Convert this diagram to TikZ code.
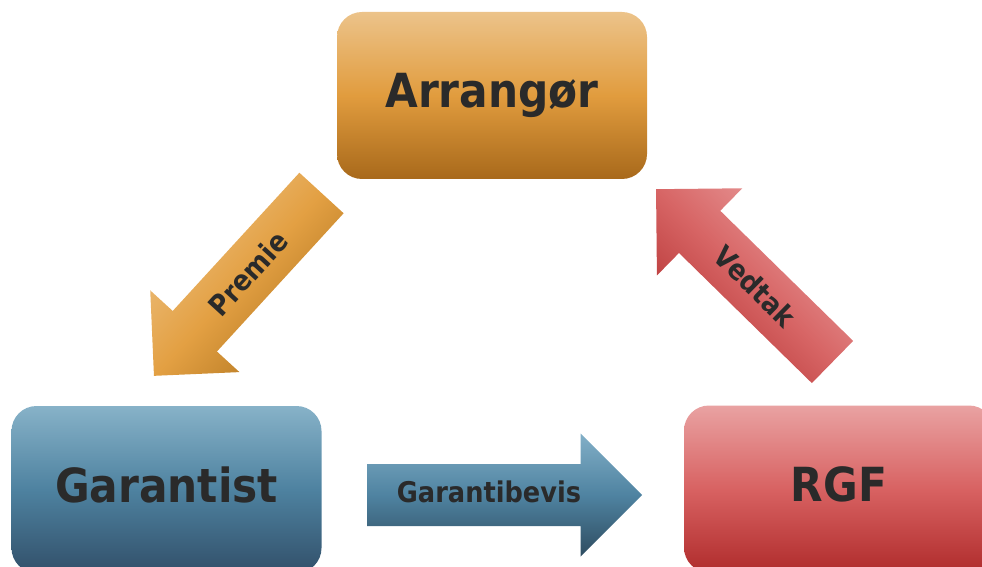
\documentclass[tikz,border=0pt]{standalone}
\usepackage{fontspec}
\newfontfamily\labfont{DejaVu Sans}[FakeStretch=0.9]
\definecolor{txt}{HTML}{2A2A2A}
\definecolor{orTop}{HTML}{ECC38A}
\definecolor{orMid}{HTML}{E19C3E}
\definecolor{orBot}{HTML}{A8691B}
\definecolor{blTop}{HTML}{87B2C8}
\definecolor{blMid}{HTML}{4E82A0}
\definecolor{blBot}{HTML}{32506A}
\definecolor{rdTop}{HTML}{E9A2A2}
\definecolor{rdMid}{HTML}{D86262}
\definecolor{rdBot}{HTML}{B02C2C}
\definecolor{paTop}{HTML}{EDC182}
\definecolor{paMid}{HTML}{E3A043}
\definecolor{paBot}{HTML}{B0741E}
\definecolor{vaTop}{HTML}{EAA0A0}
\definecolor{vaMid}{HTML}{D76565}
\definecolor{vaBot}{HTML}{B33030}
\definecolor{gaTop}{HTML}{82AFC7}
\definecolor{gaMid}{HTML}{4F83A1}
\definecolor{gaBot}{HTML}{2E4C60}
\newcommand\arrowpath[3]{(0,-#2) -- ({#1-#3},-#2) -- ({#1-#3},-#3) -- (#1,0) -- ({#1-#3},#3) -- ({#1-#3},#2) -- (0,#2) -- cycle}
\tikzset{
  box/.style={draw=none, rounded corners=25pt, minimum width=310pt, minimum height=167pt,
    inner sep=0pt, text=txt, font=\labfont\bfseries\fontsize{47}{50}\selectfont,
    text height=36pt, text depth=11pt},
  arrlabel/.style={inner sep=0pt, text=txt, font=\labfont\bfseries\fontsize{28.5}{30}\selectfont}
}
\begin{document}
\begin{tikzpicture}[x=1pt,y=1pt]
\useasboundingbox (0,0) rectangle (982,566);
\clip (0,0) rectangle (982,566);
% boxes
\node[box, top color=orTop, bottom color=orBot, middle color=orMid] (arr) at (492,470.5) {Arrangør};
\node[box, top color=blTop, bottom color=blBot, middle color=blMid] (gar) at (166.5,76.5) {Garantist};
\node[box, top color=rdTop, bottom color=rdBot, middle color=rdMid] (rgf) at (839,77) {RGF};
% Premie arrow (Arrangør -> Garantist)
\begin{scope}[shift={(321.5,373)}, rotate=227.5]
  \coordinate (pTail) at (0,0);
  \coordinate (pTip) at (248,0);
  \shade[top color=paTop, bottom color=paBot, middle color=paMid, shading angle=47.5] \arrowpath{248}{30}{60.5};
  \node[arrlabel, rotate=47.5] (premie) at (109,0) {Premie};
\end{scope}
% Vedtak arrow (RGF -> Arrangør)
\begin{scope}[shift={(832.5,204)}, rotate=135.6]
  \coordinate (vTail) at (0,0);
  \coordinate (vTip) at (247,0);
  \shade[top color=vaTop, bottom color=vaBot, middle color=vaMid, shading angle=-44.4] \arrowpath{247}{29.5}{61};
  \node[arrlabel, rotate=-44.4] (vedtak) at (108,0) {Vedtak};
\end{scope}
% Garantibevis arrow (Garantist -> RGF)
\begin{scope}[shift={(367,71)}]
  \coordinate (gTail) at (0,0);
  \coordinate (gTip) at (275,0);
  \shade[top color=gaTop, bottom color=gaBot, middle color=gaMid] \arrowpath{275}{31}{61.5};
  \node[arrlabel, anchor=base] (garbev) at (122,-7) {Garantibevis};
\end{scope}
\end{tikzpicture}
\end{document}
